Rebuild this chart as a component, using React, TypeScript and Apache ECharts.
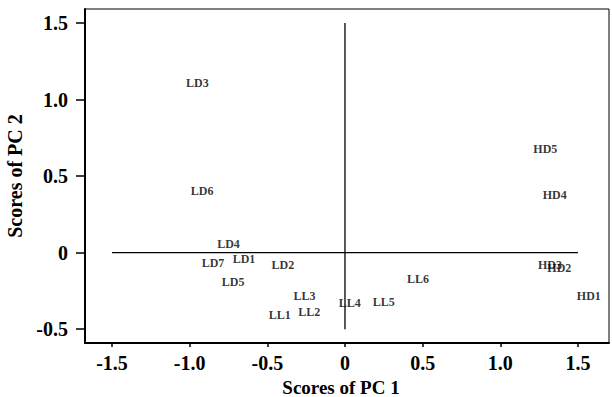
import React, { useEffect, useRef } from "react";
import * as echarts from "echarts";

const sampleNames = ["LD3", "LD6", "LD4", "LD7", "LD1", "LD2", "LD5", "LL3", "LL1", "LL2", "LL4", "LL5", "LL6", "HD5", "HD4", "HD3", "HD2", "HD1"];
const pc1Scores = [-0.95, -0.92, -0.75, -0.85, -0.65, -0.4, -0.72, -0.26, -0.42, -0.23, 0.03, 0.25, 0.47, 1.29, 1.35, 1.32, 1.38, 1.57];
const pc2Scores = [1.11, 0.4, 0.06, -0.07, -0.04, -0.08, -0.19, -0.28, -0.41, -0.39, -0.33, -0.32, -0.17, 0.68, 0.38, -0.08, -0.1, -0.28];

const xTicks = [-1.5, -1.0, -0.5, 0, 0.5, 1.0, 1.5];
const yTicks = [-0.5, 0, 0.5, 1.0, 1.5];

const FONT = "'Liberation Serif', 'Times New Roman', serif";
const fmt = (v: number) => (v === 0 ? "0" : v.toFixed(1));

export default function App() {
  const ref = useRef<HTMLDivElement>(null);
  useEffect(() => {
    if (!ref.current) return;
    const chart = echarts.init(ref.current, null, { renderer: "svg" });
    const xMin = -1.674, xMax = 1.70, yMin = -0.59, yMax = 1.592;
    chart.setOption({
      animation: false,
      backgroundColor: "#fff",
      grid: {
        left: 85, right: 3, top: 9, bottom: 54,
        outerBoundsMode: "none", containLabel: false,
        show: true, borderColor: "#000", borderWidth: 1, backgroundColor: "transparent",
      },
      xAxis: {
        type: "value", min: xMin, max: xMax,
        splitLine: { show: false },
        axisLine: { show: true, onZero: false, lineStyle: { color: "#000", width: 2 } },
        axisTick: { show: true, customValues: xTicks, length: 4, lineStyle: { color: "#000", width: 1.5 } },
        axisLabel: {
          customValues: xTicks, formatter: fmt, margin: 10,
          color: "#000", fontFamily: FONT, fontWeight: "bold", fontSize: 20,
        },
        name: "Scores of PC 1", nameLocation: "middle", nameGap: 34,
        nameTextStyle: {
          color: "#000", fontFamily: FONT, fontWeight: "bold", fontSize: 19,
          padding: [0, 12, 0, 0],
        },
      },
      yAxis: {
        type: "value", min: yMin, max: yMax,
        splitLine: { show: false },
        axisLine: { show: true, onZero: false, lineStyle: { color: "#000", width: 2 } },
        axisTick: { show: true, customValues: yTicks, length: 9, lineStyle: { color: "#000", width: 1.5 } },
        axisLabel: {
          customValues: yTicks, formatter: fmt, margin: 17,
          color: "#000", fontFamily: FONT, fontWeight: "bold", fontSize: 20,
        },
        name: "Scores of PC 2", nameLocation: "middle", nameGap: 56,
        nameTextStyle: { color: "#000", fontFamily: FONT, fontWeight: "bold", fontSize: 20 },
      },
      series: [
        {
          type: "line", symbol: "none", silent: true,
          data: [[xTicks[0], 0], [xTicks[xTicks.length - 1], 0]],
          lineStyle: { color: "#000", width: 1.3 },
        },
        {
          type: "line", symbol: "none", silent: true,
          data: [[0, yTicks[0]], [0, yTicks[yTicks.length - 1]]],
          lineStyle: { color: "#000", width: 1.3 },
        },
        {
          type: "scatter", symbolSize: 0, clip: false,
          data: sampleNames.map((n, i) => ({ name: n, value: [pc1Scores[i], pc2Scores[i]] })),
          label: {
            show: true, position: "inside", formatter: (p: any) => p.name,
            color: "#000", fontFamily: FONT, fontWeight: "bold", fontSize: 12,
          },
        },
      ],
    });
    return () => chart.dispose();
  }, []);
  return <div ref={ref} style={{ width: 612, height: 397, position: "absolute", left: 0, top: 0 }} />;
}
